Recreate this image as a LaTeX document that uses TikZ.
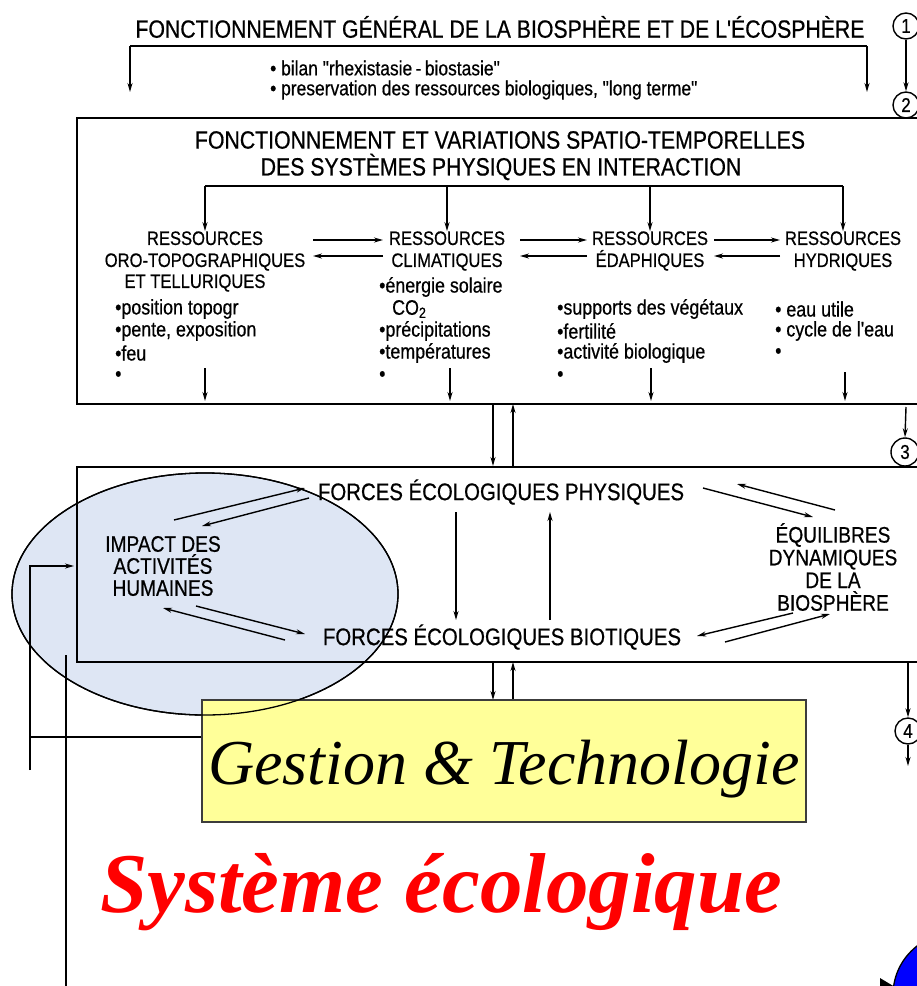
\documentclass[tikz,border=0pt]{standalone}
\usepackage{fontspec}
\setmainfont{Liberation Sans}
\newfontfamily\lett[FakeStretch=0.85,FakeBold=0.6]{Liberation Sans}
\newfontfamily\tms{Liberation Serif}
\usetikzlibrary{arrows.meta,shapes.geometric}
\definecolor{ellblue}{RGB}{222,230,244}
\definecolor{gtyellow}{RGB}{255,255,153}
\definecolor{gtframe}{RGB}{60,60,60}
\definecolor{sysred}{RGB}{255,0,0}
\definecolor{ballblue}{RGB}{0,0,255}
\tikzset{
  every node/.style={inner sep=0pt},
  ttl/.style={font=\lett\fontsize{25}{25}\selectfont},
  btl/.style={font=\lett\fontsize{25}{25}\selectfont},
  res/.style={font=\lett\fontsize{19.5}{22}\selectfont, align=center},
  bul/.style={font=\lett\fontsize{21}{21}\selectfont, anchor=west},
  tbul/.style={font=\lett\fontsize{20.5}{20.5}\selectfont, anchor=west},
  frc/.style={font=\lett\fontsize{24}{24}\selectfont},
  sml/.style={font=\lett\fontsize{22.5}{22}\selectfont, align=center},
  num/.style={draw, circle, line width=1.4pt, minimum size=26pt, font=\lett\fontsize{20}{20}\selectfont},
  frame/.style={line width=1.8pt},
  conn/.style={line width=1.4pt, -{Stealth[length=9pt,width=5pt]}},
  plain/.style={line width=1.4pt},
}
\begin{document}
\begin{tikzpicture}[x=1pt,y=-1pt]
\useasboundingbox (0,0) rectangle (917,986);
\clip (0,0) rectangle (917,986);

% ellipse (behind)
\node[draw, ellipse, fill=ellblue, line width=1.3pt, minimum width=386pt, minimum height=242pt] (ell) at (205,594) {};

% ---------- top ----------
\node[ttl] (t1) at (500,27) {FONCTIONNEMENT GÉNÉRAL DE LA BIOSPHÈRE ET DE L'ÉCOSPHÈRE};
\node[num] (n1) at (906,26) {1};
\node[num] (n2) at (906,105) {2};
\draw[conn] (n1.south) -- (n2.north);
\coordinate (bl) at (130,46);
\coordinate (br) at (867,46);
\draw[conn] (bl) -- (130,92);
\draw[conn] (br) -- (867,92);
\draw[plain] (bl) -- (br);
\node[tbul] (b1) at (270,68) {• bilan "rhexistasie\,-\,biostasie"};
\node[tbul] (b2) at (270,90) {• preservation des ressources biologiques, "long terme"};

% ---------- box 1 ----------
\draw[frame] (77,118) rectangle (960,404);
\node[btl] (bt1) at (500,140) {FONCTIONNEMENT ET VARIATIONS SPATIO-TEMPORELLES};
\node[btl] (bt2) at (501,167) {DES SYSTÈMES PHYSIQUES EN INTERACTION};
\draw[plain] (205,186) -- (843,186);
\node[res] (r1) at (205,251) {RESSOURCES\\ORO-TOPOGRAPHIQUES};
\node[res] (r1b) at (195,283) {ET TELLURIQUES};
\node[res] (r2) at (447,251) {RESSOURCES\\CLIMATIQUES};
\node[res] (r3) at (650,251) {RESSOURCES\\ÉDAPHIQUES};
\node[res] (r4) at (843,251) {RESSOURCES\\HYDRIQUES};
\foreach \n/\x in {r1/205,r2/447,r3/650,r4/843}{
  \draw[conn] (\x,186) -- (\n.north);
}
\draw[conn] (313,240) -- (383,240);
\draw[conn] (383,256) -- (313,256);
\draw[conn] (520,240) -- (587,240);
\draw[conn] (587,256) -- (520,256);
\draw[conn] (714,240) -- (780,240);
\draw[conn] (780,256) -- (714,256);

\node[bul] (c1a) at (115,309) {•position topogr};
\node[bul] (c1b) at (115,331) {•pente, exposition};
\node[bul] (c1c) at (115,353) {•feu};
\node[bul] (c1d) at (115,376) {•};
\node[bul] (c2a) at (379,287) {•énergie solaire};
\node[bul] (c2b) at (392,309) {CO\textsubscript{2}};
\node[bul] (c2c) at (379,331) {•précipitations};
\node[bul] (c2d) at (379,353) {•températures};
\node[bul] (c2e) at (379,376) {•};
\node[bul] (c3a) at (557,309) {•supports des végétaux};
\node[bul] (c3b) at (557,331) {•fertilité};
\node[bul] (c3c) at (557,353) {•activité biologique};
\node[bul] (c3d) at (557,376) {•};
\node[bul] (c4a) at (775,309) {• eau utile};
\node[bul] (c4b) at (775,331) {• cycle de l'eau};
\node[bul] (c4c) at (775,353) {•};
\draw[conn] (205,368) -- (205,401);
\draw[conn] (450,368) -- (450,401);
\draw[conn] (651,368) -- (651,401);
\draw[conn] (845,372) -- (845,401);

% between box1 and box2
\draw[conn] (493,404) -- (493,466);
\draw[conn] (513,466) -- (513,404);
\node[num, minimum size=28pt] (n3) at (905,452) {3};
\draw[conn] (906,407) -- (n3.north);

% ---------- box 2 ----------
\draw[frame] (77,467) rectangle (960,662);
\node[frc] (fp) at (501,492) {FORCES ÉCOLOGIQUES PHYSIQUES};
\node[frc] (fb) at (502,637) {FORCES ÉCOLOGIQUES BIOTIQUES};
\draw[conn] (456,512) -- (456,620);
\draw[conn] (550,620) -- (550,512);
\node[sml] (im) at (163,566) {IMPACT DES\\ACTIVITÉS\\HUMAINES};
\node[sml, font=\lett\fontsize{22.5}{22.7}\selectfont] (eq) at (833,567) {ÉQUILIBRES\\DYNAMIQUES\\DE LA\\BIOSPHÈRE};
\draw[conn] (174,520) -- (305,488);
\draw[conn] (309,498) -- (202,526);
\draw[conn] (196,606) -- (305,634);
\draw[conn] (285,640) -- (163,608);
\draw[conn] (703,488) -- (813,517);
\draw[conn] (835,510) -- (737,484);
\draw[conn] (793,613) -- (697,636);
\draw[conn] (725,642) -- (830,614);

% left loop
\draw[conn] (30,770) -- (30,566) -- (74,566);
\draw[plain] (66,655) -- (66,990);

% ---------- bottom ----------
\draw[conn] (493,662) -- (493,700);
\draw[conn] (513,700) -- (513,662);
\node[num] (n4) at (908,731) {4};
\draw[conn] (908,662) -- (n4.north);
\draw[conn] (n4.south) -- (908,766);

\node[draw=gtframe, fill=gtyellow, line width=1.3pt, minimum width=604pt, minimum height=122pt] (gt) at (504,761) {};
\node[font=\tms\itshape\fontsize{64}{64}\selectfont, anchor=base] (gtt) at (504,784) {Gestion \& Technologie};
\draw[plain] (gt.west |- 0,737) -- (30,737);
\draw[line width=1.3pt] (ell.center) ellipse [x radius=193pt, y radius=121pt];

\node[font=\tms\bfseries\itshape\fontsize{85}{85}\selectfont, text=sysred, anchor=base west] (sys) at (100,912) {Système écologique};

\node[draw, circle, fill=ballblue, line width=1.3pt, minimum size=124pt] (ball) at (955,995) {};
\fill (880,978) -- (895,987) -- (880,993) -- cycle;
\end{tikzpicture}
\end{document}
